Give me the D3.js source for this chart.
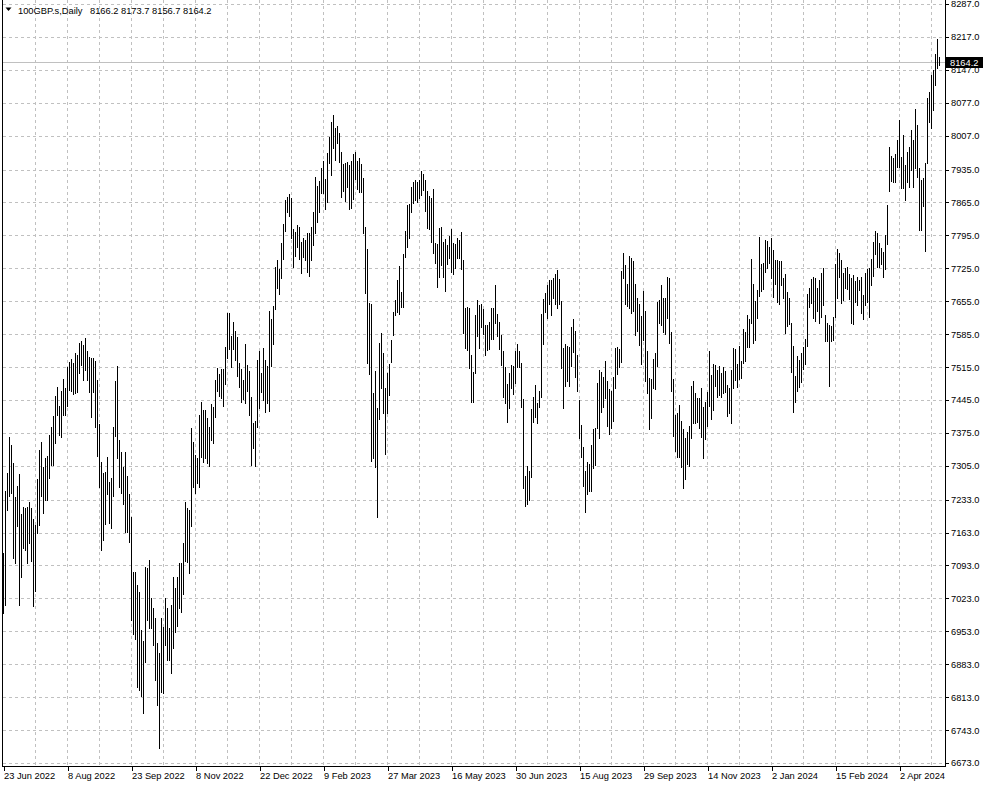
<!DOCTYPE html>
<html>
<head>
<meta charset="utf-8">
<script src="https://cdn.jsdelivr.net/npm/d3@7"></script>
<style>
html, body { margin: 0; padding: 0; background: #ffffff; }
svg { display: block; }
</style>
</head>
<body>
<svg id="chart" width="985" height="787"></svg>
<script>
// ---------- DATA ----------
const symbolTitle = "100GBP.s,Daily";
const lastOHLC = [8166.2, 8173.7, 8156.7, 8164.2];   // open, high, low, close of last bar
const bidPrice = 8164.2;

const highs = [
  7120, 7251, 7290, 7366, 7349, 7311, 7239, 7262, 7288, 7203,
  7217, 7215, 7217, 7228, 7215, 7192, 7179, 7277, 7339, 7356,
  7302, 7322, 7326, 7371, 7388, 7411, 7453, 7473, 7432, 7464,
  7490, 7470, 7515, 7526, 7532, 7524, 7545, 7541, 7566, 7570,
  7562, 7577, 7549, 7536, 7534, 7534, 7528, 7487, 7394, 7313,
  7290, 7292, 7324, 7271, 7279, 7388, 7485, 7517, 7360, 7334,
  7302, 7334, 7283, 7245, 7196, 7079, 7079, 7052, 7037, 6956,
  6932, 7090, 7088, 7105, 7024, 7003, 6981, 6928, 6907, 6981,
  6962, 7024, 7003, 6960, 7009, 7069, 7045, 7069, 7098, 7098,
  7141, 7228, 7215, 7211, 7385, 7356, 7328, 7322, 7413,
  7441, 7424, 7424, 7407, 7388, 7436, 7430, 7487, 7513, 7500,
  7511, 7511, 7558, 7630, 7630, 7581, 7611, 7592, 7579, 7524,
  7511, 7487, 7564, 7519, 7507, 7451, 7396, 7400, 7530, 7549,
  7502, 7556, 7530, 7517, 7634, 7617, 7645, 7728, 7743, 7723,
  7779, 7819, 7870, 7877, 7883, 7874, 7809,
  7802, 7817, 7813, 7781, 7789, 7785, 7800, 7800, 7813, 7845,
  7919, 7900, 7911, 7938, 7953, 7915, 7970, 8004, 8036, 8051,
  8023, 8028, 8013, 7972, 7947, 7949, 7951, 7945, 7953, 7968,
  7972, 7953, 7960, 7947, 7917, 7813, 7766, 7651, 7649, 7460,
  7507, 7428, 7566, 7587, 7545, 7470, 7502,
  7521, 7573, 7632, 7658, 7700, 7730, 7675, 7755, 7804, 7860,
  7862, 7898, 7908, 7913, 7908, 7913, 7932, 7925, 7913, 7889,
  7879, 7874, 7894, 7779, 7777, 7811, 7813, 7781, 7787, 7774,
  7794, 7809, 7779, 7777, 7789, 7785, 7802, 7743, 7641, 7643,
  7641, 7541, 7504, 7626, 7658, 7647, 7649,
  7638, 7604, 7604, 7611, 7641, 7641, 7689, 7628, 7611, 7583,
  7549, 7515, 7479, 7502, 7519, 7517, 7549, 7564, 7549, 7524,
  7447, 7283, 7305, 7294, 7426, 7451, 7477, 7439, 7464, 7628,
  7660, 7672, 7689, 7700, 7700, 7704, 7713, 7721, 7702, 7655,
  7556, 7564, 7560, 7558, 7600, 7617, 7592,
  7541, 7445, 7392, 7345, 7294, 7313, 7309, 7349, 7383, 7385,
  7481, 7509, 7504, 7494, 7528, 7485, 7468, 7464, 7494, 7556,
  7558, 7553, 7719, 7757, 7732, 7692, 7751, 7747, 7741, 7692,
  7662, 7649, 7623, 7677, 7634, 7549, 7492, 7490, 7532, 7545,
  7653, 7658, 7689, 7662, 7662, 7706, 7704,
  7590, 7490, 7413, 7417, 7434, 7400, 7383, 7364, 7377, 7390,
  7475, 7485, 7460, 7449, 7449, 7470, 7430, 7441, 7462, 7549,
  7498, 7521, 7519, 7509, 7517, 7502, 7515, 7507, 7477, 7470,
  7509, 7556, 7553, 7521, 7560, 7528, 7596, 7590, 7626, 7617,
  7745, 7692, 7655, 7679, 7791, 7734, 7736,
  7785, 7783, 7770, 7789, 7764, 7743, 7743, 7741, 7741, 7704,
  7713, 7675, 7662, 7609, 7560, 7496, 7538, 7530, 7545, 7558,
  7575, 7670, 7683, 7702, 7706, 7704, 7683, 7700, 7715, 7726,
  7626, 7609, 7604, 7602, 7621, 7734, 7766, 7757, 7743, 7715,
  7726, 7728, 7713, 7704, 7711, 7698, 7706,
  7700, 7706, 7668, 7715, 7723, 7726, 7745, 7781, 7804, 7800,
  7779, 7768, 7760, 7796, 7860, 7983, 7964, 7960, 7968, 7998,
  8040, 7962, 8008, 7945, 7972, 7983, 8019, 7998, 8064, 8030,
  7938, 7913, 7917, 7949, 8087, 8100, 8136, 8147, 8181, 8213,
  8173.7
];

const lows = [
  6992, 7009, 7211, 7241, 7247, 7109, 7098, 7177, 7009, 7069,
  7130, 7126, 7098, 7141, 7103, 7007, 7039, 7162, 7179, 7241,
  7205, 7232, 7232, 7279, 7307, 7307, 7353, 7413, 7371, 7366,
  7413, 7413, 7432, 7466, 7464, 7458, 7460, 7462, 7502, 7519,
  7487, 7509, 7487, 7462, 7409, 7462, 7388, 7326, 7260, 7126,
  7147, 7181, 7245, 7183, 7173, 7241, 7368, 7322, 7260, 7247,
  7224, 7164, 7164, 7143, 6977, 6947, 6937, 6835, 6828, 6815,
  6779, 6888, 6977, 6960, 6960, 6924, 6850, 6796, 6705, 6824,
  6822, 6924, 6892, 6892, 6864, 6918, 6952, 6964, 7003, 6994,
  7032, 7103, 7100, 7077, 7177, 7260, 7247, 7268, 7260,
  7324, 7313, 7322, 7311, 7305, 7360, 7353, 7409, 7464, 7453,
  7449, 7432, 7479, 7534, 7553, 7515, 7553, 7530, 7496, 7473,
  7441, 7447, 7439, 7464, 7413, 7307, 7343, 7305, 7388, 7428,
  7462, 7445, 7419, 7439, 7422, 7517, 7564, 7638, 7683, 7670,
  7704, 7745, 7804, 7845, 7836, 7789, 7728,
  7751, 7770, 7745, 7715, 7749, 7743, 7717, 7709, 7743, 7774,
  7800, 7823, 7845, 7885, 7885, 7851, 7866, 7949, 7923, 7981,
  7955, 7991, 7951, 7877, 7889, 7868, 7898, 7851, 7853, 7872,
  7915, 7894, 7887, 7887, 7800, 7672, 7524, 7500, 7315, 7322,
  7302, 7196, 7405, 7470, 7417, 7330, 7417,
  7456, 7526, 7583, 7626, 7632, 7628, 7643, 7643, 7749, 7770,
  7789, 7845, 7864, 7870, 7866, 7874, 7881, 7891, 7847, 7811,
  7809, 7781, 7757, 7736, 7685, 7706, 7732, 7706, 7677, 7734,
  7747, 7717, 7713, 7726, 7747, 7747, 7723, 7587, 7556, 7551,
  7513, 7441, 7441, 7502, 7581, 7556, 7600,
  7585, 7541, 7551, 7553, 7575, 7575, 7609, 7581, 7553, 7519,
  7451, 7439, 7398, 7428, 7470, 7458, 7481, 7515, 7515, 7430,
  7258, 7220, 7224, 7232, 7281, 7398, 7409, 7396, 7430, 7451,
  7564, 7632, 7619, 7649, 7626, 7662, 7649, 7641, 7649, 7513,
  7428, 7475, 7485, 7475, 7517, 7547, 7494,
  7464, 7364, 7324, 7262, 7207, 7245, 7251, 7251, 7300, 7307,
  7385, 7364, 7419, 7430, 7449, 7390, 7373, 7385, 7400, 7470,
  7500, 7515, 7526, 7704, 7649, 7645, 7641, 7630, 7634, 7583,
  7592, 7562, 7521, 7573, 7485, 7460, 7383, 7407, 7470, 7468,
  7517, 7609, 7604, 7590, 7585, 7619, 7566,
  7464, 7368, 7336, 7324, 7324, 7302, 7258, 7277, 7309, 7305,
  7364, 7396, 7396, 7398, 7385, 7366, 7322, 7362, 7390, 7432,
  7405, 7424, 7475, 7451, 7456, 7451, 7460, 7462, 7411, 7417,
  7396, 7470, 7487, 7473, 7490, 7492, 7524, 7528, 7558, 7558,
  7609, 7566, 7573, 7619, 7666, 7677, 7681,
  7717, 7726, 7736, 7704, 7664, 7692, 7653, 7649, 7689, 7662,
  7587, 7602, 7606, 7504, 7419, 7441, 7464, 7473, 7483, 7511,
  7521, 7560, 7643, 7651, 7619, 7613, 7634, 7609, 7621, 7647,
  7570, 7570, 7475, 7570, 7573, 7621, 7662, 7706, 7651, 7658,
  7683, 7681, 7660, 7609, 7606, 7653, 7647,
  7679, 7630, 7617, 7647, 7653, 7621, 7689, 7709, 7755, 7728,
  7728, 7734, 7706, 7723, 7777, 7889, 7911, 7908, 7908, 7940,
  7940, 7896, 7896, 7870, 7908, 7898, 7934, 7898, 7938, 7919,
  7806, 7806, 7857, 7762, 7949, 8036, 8023, 8062, 8115, 8151,
  8156.7
];

const dateLabels = [
  "23 Jun 2022", "8 Aug 2022", "23 Sep 2022", "8 Nov 2022", "22 Dec 2022",
  "9 Feb 2023", "27 Mar 2023", "16 May 2023", "30 Jun 2023", "15 Aug 2023",
  "29 Sep 2023", "14 Nov 2023", "2 Jan 2024", "15 Feb 2024", "2 Apr 2024"
];
const barsPerLabel = 32;
const barsPerGrid = 16;

const priceTicks = [
  8287.0, 8217.0, 8147.0, 8077.0, 8007.0, 7935.0, 7865.0, 7795.0,
  7725.0, 7655.0, 7585.0, 7515.0, 7445.0, 7375.0, 7305.0, 7233.0,
  7163.0, 7093.0, 7023.0, 6953.0, 6883.0, 6813.0, 6743.0, 6673.0
];

// ---------- LAYOUT ----------
const FONT = "'Liberation Sans', Arial, sans-serif";
const FS = 9.3;
const plot = { left: 2, right: 945, top: 0, bottom: 766 };
const n = highs.length;

const x = d3.scaleLinear().domain([0, n - 1]).range([3, 3 + 2 * (n - 1)]);
const y = d3.scaleLinear().domain([6673, 8287]).range([763, 4]);

const svg = d3.select("#chart");
svg.append("rect").attr("width", 985).attr("height", 787).attr("fill", "#ffffff");

const gridColor = "#c0c0c0";
const gGrid = svg.append("g").attr("shape-rendering", "crispEdges");

// horizontal grid
gGrid.selectAll("line.hg").data(priceTicks).join("line")
  .attr("class", "hg")
  .attr("x1", plot.left + 1).attr("x2", plot.right)
  .attr("y1", d => Math.round(y(d)) + 0.5).attr("y2", d => Math.round(y(d)) + 0.5)
  .attr("stroke", gridColor).attr("stroke-width", 1).attr("stroke-dasharray", "3,3");

// vertical grid
const gridIdx = d3.range(barsPerGrid, n, barsPerGrid);
gGrid.selectAll("line.vg").data(gridIdx).join("line")
  .attr("class", "vg")
  .attr("x1", d => x(d) + 0.5).attr("x2", d => x(d) + 0.5)
  .attr("y1", plot.top).attr("y2", plot.bottom)
  .attr("stroke", gridColor).attr("stroke-width", 1).attr("stroke-dasharray", "3,3");

// bid line
svg.append("line")
  .attr("x1", plot.left).attr("x2", plot.right)
  .attr("y1", Math.round(y(bidPrice)) + 0.5).attr("y2", Math.round(y(bidPrice)) + 0.5)
  .attr("stroke", "#c0c0c0").attr("stroke-width", 1).attr("shape-rendering", "crispEdges");

// OHLC bars (high-low lines)
svg.append("g").attr("shape-rendering", "crispEdges")
  .selectAll("line").data(d3.range(n)).join("line")
  .attr("x1", i => x(i) + 0.5).attr("x2", i => x(i) + 0.5)
  .attr("y1", i => Math.round(y(highs[i]))).attr("y2", i => Math.round(y(lows[i])) + 1)
  .attr("stroke", "#000000").attr("stroke-width", 1);

// frame
const gFrame = svg.append("g").attr("shape-rendering", "crispEdges").attr("stroke", "#000").attr("stroke-width", 1);
gFrame.append("line").attr("x1", plot.left + 0.5).attr("x2", plot.left + 0.5).attr("y1", plot.top).attr("y2", plot.bottom + 1);
gFrame.append("line").attr("x1", plot.right + 0.5).attr("x2", plot.right + 0.5).attr("y1", plot.top).attr("y2", plot.bottom + 1);
gFrame.append("line").attr("x1", plot.left).attr("x2", plot.right + 1).attr("y1", plot.bottom + 0.5).attr("y2", plot.bottom + 0.5);

// right price axis
const yAxis = d3.axisRight(y).tickValues(priceTicks).tickFormat(d3.format(".1f")).tickSize(3).tickPadding(2);
const gY = svg.append("g").attr("transform", `translate(${plot.right + 1},0)`).call(yAxis);
gY.select(".domain").remove();
gY.attr("font-family", FONT).attr("font-size", FS);
gY.selectAll(".tick line").attr("stroke", "#000").attr("shape-rendering", "crispEdges");
gY.selectAll(".tick text").attr("fill", "#000");

// bottom date axis
const labelIdx = dateLabels.map((_, k) => k * barsPerLabel);
const xAxis = d3.axisBottom(x).tickValues(labelIdx).tickFormat((d, k) => dateLabels[k]).tickSize(4).tickPadding(1);
const gX = svg.append("g").attr("transform", `translate(0.5,${plot.bottom + 1})`).call(xAxis);
gX.select(".domain").remove();
gX.attr("font-family", FONT).attr("font-size", FS);
gX.selectAll(".tick line").attr("stroke", "#000").attr("shape-rendering", "crispEdges");
gX.selectAll(".tick text").attr("fill", "#000").attr("text-anchor", "start").attr("x", 0);

// bid price label box
const bidY = Math.round(y(bidPrice));
svg.append("rect")
  .attr("x", plot.right + 1).attr("y", bidY - 5).attr("width", 37).attr("height", 11)
  .attr("fill", "#000000").attr("shape-rendering", "crispEdges");
svg.append("text")
  .attr("x", plot.right + 5).attr("y", bidY + 4)
  .attr("font-family", FONT).attr("font-size", FS).attr("fill", "#ffffff")
  .text(d3.format(".1f")(bidPrice));

// header
svg.append("path").attr("d", "M5.5,7.5 L11.5,7.5 L8.5,11 Z").attr("fill", "#000");
svg.append("text")
  .attr("x", 18).attr("y", 14)
  .attr("font-family", FONT).attr("font-size", FS).attr("fill", "#000")
  .text(symbolTitle);
svg.append("text")
  .attr("x", 90).attr("y", 14)
  .attr("font-family", FONT).attr("font-size", FS).attr("fill", "#000")
  .text(lastOHLC.map(d3.format(".1f")).join(" "));
</script>
</body>
</html>
